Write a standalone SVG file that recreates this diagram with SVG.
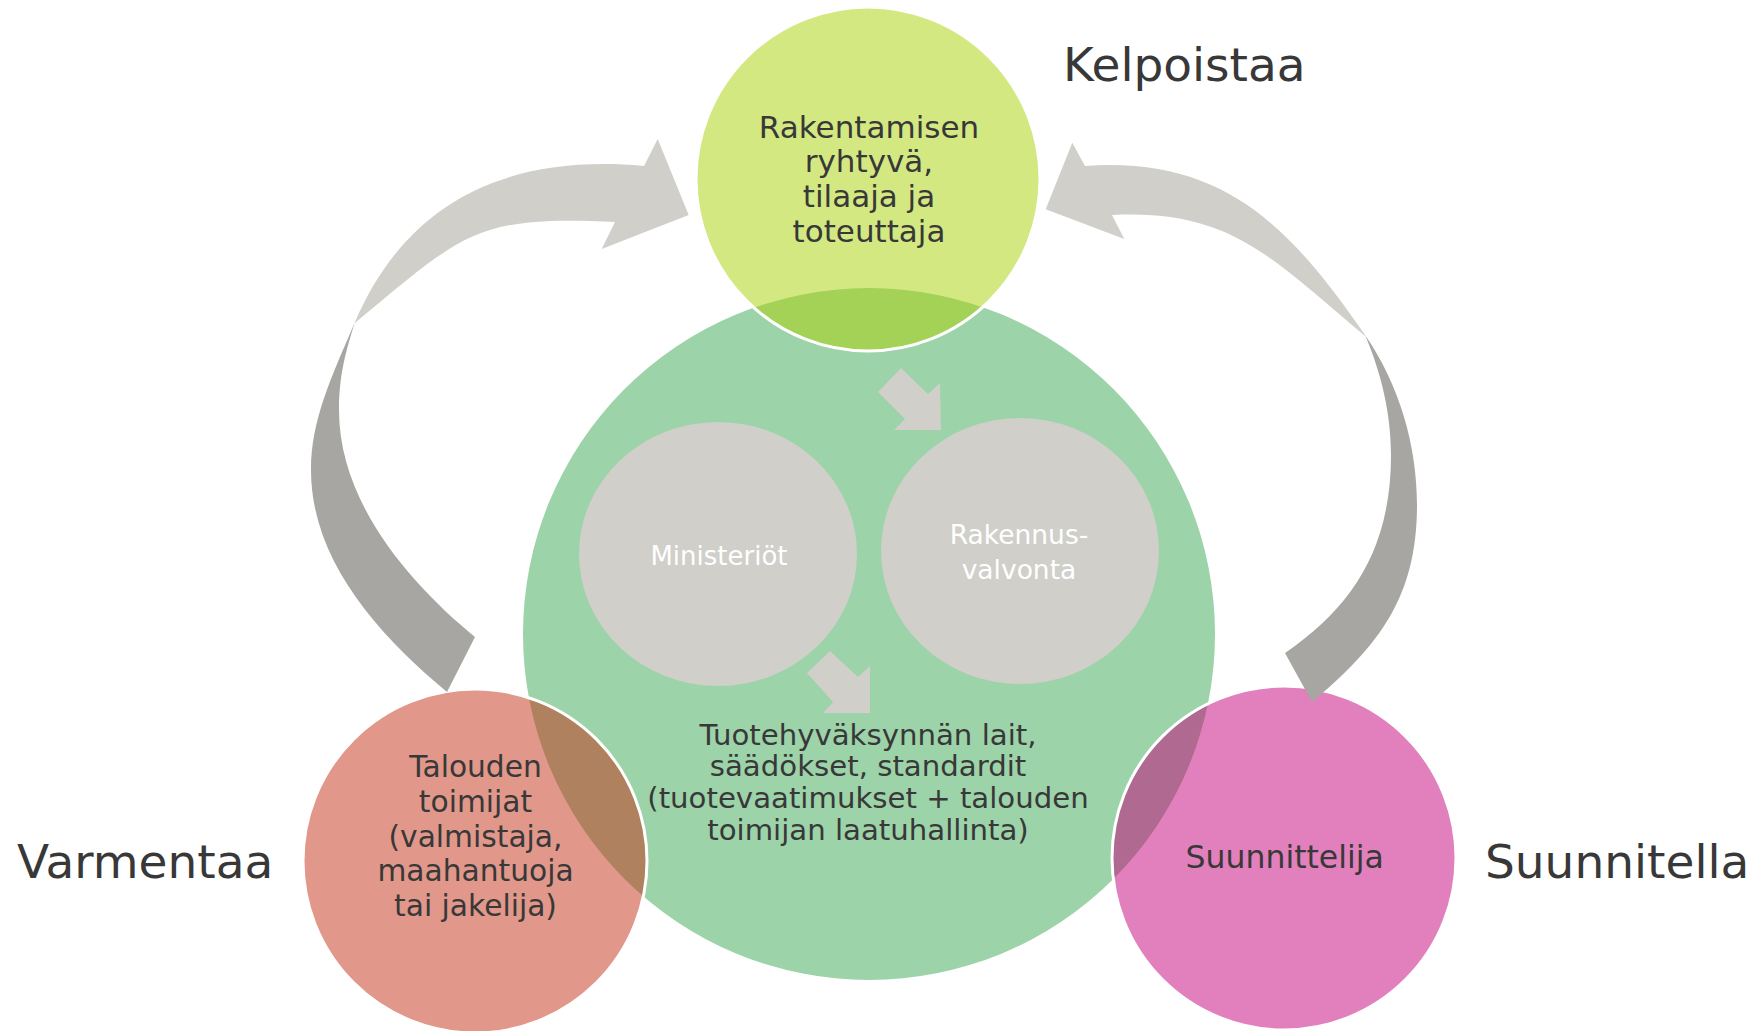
<svg xmlns="http://www.w3.org/2000/svg" width="1763" height="1031" viewBox="0 0 1763 1031">
<style>
text{font-family:"DejaVu Sans",Verdana,sans-serif;fill:#383838;text-anchor:middle}
.big{font-size:47px;text-anchor:start}
.wt{fill:#ffffff;font-size:26.5px}
.ring{stroke:#ffffff;stroke-width:3}
.lg{fill:#d0cfca}
.dg{fill:#a7a6a2}
</style>
<rect width="1763" height="1031" fill="#ffffff"/>
<g id="center">
<circle cx="869" cy="634" r="346" fill="#9cd3a9"/>
</g>
<g id="ministeriot">
<ellipse cx="718" cy="554" rx="139" ry="132" class="lg"/>
<text x="719" y="565" class="wt" style="font-size:26px">Ministeriöt</text>
</g>
<g id="rakennusvalvonta">
<ellipse cx="1020" cy="551" rx="139" ry="133" class="lg"/>
<text x="1019" y="544" class="wt">Rakennus-</text>
<text x="1019" y="578.6" class="wt">valvonta</text>
</g>
<g id="kelpoistaa">
<circle cx="868" cy="179" r="172" fill="#a9d105" fill-opacity="0.5" class="ring"/>
<text style="font-size:31px"><tspan x="869" y="137.7">Rakentamisen</tspan><tspan x="869" y="172.3">ryhtyvä,</tspan><tspan x="869" y="207.3">tilaaja ja</tspan><tspan x="869" y="242.3">toteuttaja</tspan></text>
</g>
<g id="varmentaa">
<circle cx="475" cy="861" r="172" fill="#c32f15" fill-opacity="0.5" class="ring"/>
<text style="font-size:29.7px"><tspan x="475.5" y="777">Talouden</tspan><tspan x="475.5" y="811.8">toimijat</tspan><tspan x="475.5" y="846.6">(valmistaja,</tspan><tspan x="475.5" y="881.4">maahantuoja</tspan><tspan x="475.5" y="916.2">tai jakelija)</tspan></text>
</g>
<g id="suunnitella">
<circle cx="1284" cy="858" r="172" fill="#c30179" fill-opacity="0.5" class="ring"/>
<text x="1284.7" y="868.4" style="font-size:31.5px">Suunnittelija</text>
</g>
<g id="connectors">
<path class="lg" d="M 644,166 L 657.7,139 L 688.7,215 L 601.7,249 L 615,222 C 475.7,215 462.8,233.4 355,323 L 355,322 C 402.3,211.7 494.7,152.5 644,166 Z"/>
<path class="dg" d="M 355,322 C 331.4,377.1 311,420 311,470 C 311,560 377.9,634.4 447,692 L 475,637 C 413.2,586.2 339,505 339,410 C 339,375 346,350.5 355,322 Z"/>
<path class="lg" d="M 1085,166 L 1072.3,142.7 L 1045.7,209.3 L 1124.3,239 L 1112,215 C 1232,209 1272.6,259.2 1365,336 L 1365,335 C 1291,228.1 1224.6,156.1 1085,166 Z"/>
<path class="dg" d="M 1365,335 C 1399.1,384.3 1417,445 1417,505 C 1417,595 1381.1,644.4 1312,702 L 1285,653 C 1351,607.8 1391,550 1391,455 C 1391,405 1376.8,362.6 1365,335 Z"/>
<polygon class="lg" points="901,368 928,394 940,383 941,430 894,430 905,419 878,392"/>
<polygon class="lg" points="830,651 858,677 870,666 870,713 823,713 833,702 807,673"/>
</g>
<g id="center-text">
<text style="font-size:29.2px"><tspan x="868" y="744.5">Tuotehyväksynnän lait,</tspan><tspan x="868" y="776.2">säädökset, standardit</tspan><tspan x="868" y="807.9">(tuotevaatimukset + talouden</tspan><tspan x="868" y="839.6">toimijan laatuhallinta)</tspan></text>
</g>
<g id="labels">
<text x="1063" y="81" class="big">Kelpoistaa</text>
<text x="17" y="878" class="big">Varmentaa</text>
<text x="1485" y="878" class="big">Suunnitella</text>
</g>
</svg>
